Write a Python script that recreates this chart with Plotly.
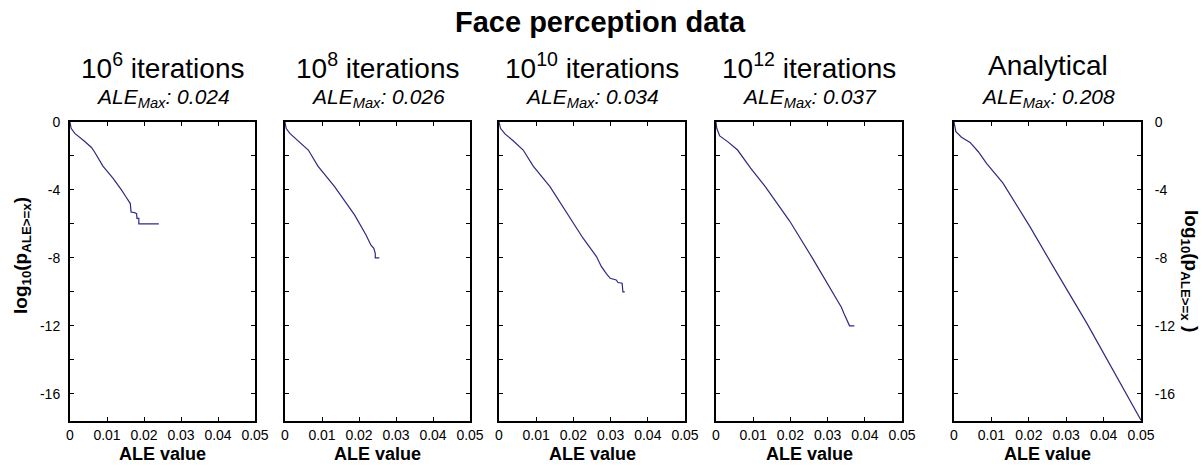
import plotly.graph_objects as go

W, H = 1202, 466

# ---- data ----
panel_titles = ["10<sup>6</sup> iterations", "10<sup>8</sup> iterations",
                "10<sup>10</sup> iterations", "10<sup>12</sup> iterations", "Analytical"]
ale_max = ["0.024", "0.026", "0.034", "0.037", "0.208"]

x_1e6 = [0, 0.0003, 0.0013, 0.0030, 0.0040, 0.0058, 0.0066, 0.0089, 0.0116, 0.0139, 0.0147,
         0.0152, 0.0163, 0.0165, 0.0174, 0.0180, 0.0181, 0.0186, 0.0186, 0.0240]
y_1e6 = [0, -0.37, -0.67, -0.95, -1.15, -1.50, -1.75, -2.60, -3.30, -4.00, -4.32,
         -4.43, -4.80, -5.30, -5.33, -5.40, -5.67, -5.67, -6.00, -6.00]

x_1e8 = [0, 0.0003, 0.0013, 0.0036, 0.0063, 0.0089, 0.0134, 0.0188, 0.0219, 0.0232,
         0.0240, 0.0244, 0.0244, 0.0255]
y_1e8 = [0, -0.37, -0.67, -1.10, -1.65, -2.60, -3.80, -5.47, -6.65, -7.24,
         -7.43, -7.73, -8.00, -8.00]

x_1e10 = [0, 0.0004, 0.0016, 0.0038, 0.0065, 0.0092, 0.0137, 0.0190, 0.0226, 0.0262,
          0.0275, 0.0289, 0.0299, 0.0315, 0.0320, 0.0331, 0.0333, 0.0338]
y_1e10 = [0, -0.37, -0.70, -1.10, -1.65, -2.60, -3.80, -5.57, -6.84, -7.92,
          -8.50, -8.94, -9.20, -9.30, -9.45, -9.49, -10.00, -10.00]

x_1e12 = [0, 0.0002, 0.0010, 0.0032, 0.0058, 0.0093, 0.0132, 0.0198, 0.0258, 0.0319,
          0.0337, 0.0344, 0.0350, 0.0354, 0.0359, 0.0372]
y_1e12 = [0, -0.37, -0.82, -1.17, -1.65, -2.72, -3.79, -5.83, -7.97, -10.20,
          -10.90, -11.27, -11.56, -11.66, -12.00, -12.00]

x_analytical = [0, 0.0005, 0.0020, 0.0043, 0.0065, 0.0087, 0.0131, 0.0203, 0.0265,
                0.0318, 0.0355, 0.0500]
y_analytical = [0, -0.57, -0.90, -1.20, -1.75, -2.43, -3.60, -6.16, -8.50,
                -10.47, -11.84, -17.55]

series = [(x_1e6, y_1e6), (x_1e8, y_1e8), (x_1e10, y_1e10), (x_1e12, y_1e12),
          (x_analytical, y_analytical)]

x_ticks = [0, 0.01, 0.02, 0.03, 0.04, 0.05]
x_ticktext = ["0", "0.01", "0.02", "0.03", "0.04", "0.05"]
y_ticks = [0, -2, -4, -6, -8, -10, -12, -14, -16]
y_ticktext = ["0", "", "-4", "", "-8", "", "-12", "", "-16"]

# ---- layout geometry (page pixels) ----
panel_px = [(70, 255), (285, 470), (499, 685), (716, 902), (954, 1141)]
top_px, bot_px = 122, 421
FONT = "Liberation Sans, Arial, Helvetica, sans-serif"
LINE = "#2e2a7e"


def px(x):
    return x / W


def py(y):
    return 1 - y / H


fig = go.Figure()
layout = dict(width=W, height=H, margin=dict(l=0, r=0, t=0, b=0, autoexpand=False),
              paper_bgcolor="white", plot_bgcolor="white", showlegend=False,
              font=dict(family=FONT, color="black"))
annotations = []

for i, ((xs, ys), (l, r)) in enumerate(zip(series, panel_px)):
    k = "" if i == 0 else str(i + 1)
    fig.add_trace(go.Scatter(x=xs, y=ys, mode="lines", line=dict(color=LINE, width=1.2),
                             xaxis="x" + k, yaxis="y" + k))
    layout["xaxis" + k] = dict(domain=[px(l), px(r)], range=[0, 0.05], anchor="y" + k,
                               automargin=False,
                               tickvals=x_ticks, ticktext=x_ticktext, ticks="inside", ticklen=4,
                               tickwidth=1, tickcolor="black", showline=True, linecolor="black",
                               linewidth=2, mirror="ticks", showgrid=False, zeroline=False,
                               tickfont=dict(size=14, family=FONT))
    yax = dict(domain=[py(bot_px), py(top_px)], range=[-17.6, 0], anchor="x" + k,
               automargin=False,
               tickvals=y_ticks, ticktext=y_ticktext, ticks="inside", ticklen=4, tickwidth=1,
               tickcolor="black", showline=True, linecolor="black", linewidth=2,
               mirror="ticks", showgrid=False, zeroline=False,
               tickfont=dict(size=14, family=FONT), ticklabelstandoff=5)
    if i in (1, 2, 3):
        yax["showticklabels"] = False
    if i == 4:
        yax["side"] = "right"
        yax["ticklabelstandoff"] = 9
    layout["yaxis" + k] = yax
    cx = px((l + r) / 2)
    annotations.append(dict(text=panel_titles[i], x=cx, y=py(66), xref="paper", yref="paper",
                            showarrow=False, xanchor="center", yanchor="middle",
                            font=dict(size=28, family=FONT)))
    annotations.append(dict(text="<i>ALE<sub>Max</sub>: " + ale_max[i] + "</i>", x=cx,
                            y=py(98), xref="paper", yref="paper", showarrow=False,
                            xanchor="center", yanchor="middle", font=dict(size=21, family=FONT)))
    annotations.append(dict(text="<b>ALE value</b>", x=cx, y=py(454), xref="paper", yref="paper",
                            showarrow=False, xanchor="center", yanchor="middle",
                            font=dict(size=18, family=FONT)))

annotations.append(dict(text="<b>Face perception data</b>", x=px(600), y=py(22),
                        xref="paper", yref="paper", showarrow=False, xanchor="center",
                        yanchor="middle", font=dict(size=29, family=FONT)))
annotations.append(dict(text="<b>log<sub>10</sub>(p<sub>ALE&gt;=x</sub>)</b>", x=px(22),
                        y=py(256), xref="paper", yref="paper",
                        showarrow=False, textangle=-90, xanchor="center", yanchor="middle",
                        font=dict(size=19, family=FONT)))
annotations.append(dict(text="<b>log<sub>10</sub>(p<sub>ALE&gt;=x</sub> )</b>", x=px(1190),
                        y=py(271), xref="paper", yref="paper",
                        showarrow=False, textangle=90, xanchor="center", yanchor="middle",
                        font=dict(size=19, family=FONT)))
layout["annotations"] = annotations
fig.update_layout(**layout)
fig.write_html("out.html", config={"displayModeBar": False},
               post_script="document.body.style.margin='0px';document.body.style.overflow='hidden';")
